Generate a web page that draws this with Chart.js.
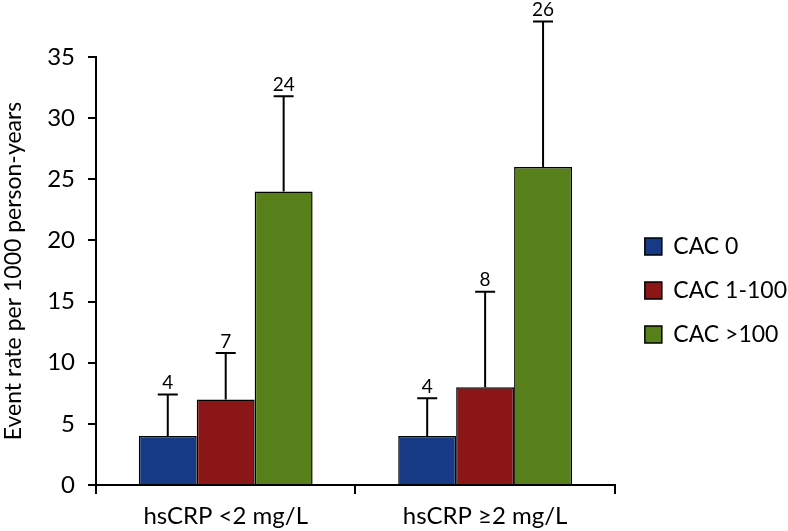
<!DOCTYPE html>
<html>
<head>
<meta charset="utf-8">
<script src="https://cdn.jsdelivr.net/npm/chart.js@4"></script>
<style>
  html, body { margin: 0; padding: 0; background: #fff; }
  #wrap { width: 788px; height: 531px; }
</style>
</head>
<body>
<div id="wrap"><canvas id="chart"></canvas></div>
<script>
const categories = ['hsCRP <2 mg/L', 'hsCRP \u22652 mg/L'];
const seriesNames = ['CAC 0', 'CAC 1-100', 'CAC >100'];
const cac0 = [4, 4];
const cac1to100 = [7, 8];
const cacOver100 = [24, 26];
// upper end of the error bars
const cac0Upper = [7.4, 7.1];
const cac1to100Upper = [10.8, 15.8];
const cacOver100Upper = [31.8, 37.9];
const yTicks = [0, 5, 10, 15, 20, 25, 30, 35];

const fontFamily = 'Lato, "Open Sans", sans-serif';
const colors = ['#173A86', '#8A1617', '#57801A'];
const uppers = [cac0Upper, cac1to100Upper, cacOver100Upper];

const errorBars = {
    id: 'errorBars',
    afterDatasetsDraw(chart) {
        const ctx = chart.ctx;
        const y = chart.scales.y;
        ctx.save();
        ctx.strokeStyle = '#000';
        ctx.lineWidth = 2;
        ctx.fillStyle = '#000';
        ctx.font = '19px ' + fontFamily;
        ctx.textAlign = 'center';
        ctx.textBaseline = 'bottom';
        chart.data.datasets.forEach(function(ds, i) {
            chart.getDatasetMeta(i).data.forEach(function(bar, j) {
                const top = y.getPixelForValue(uppers[i][j]);
                const base = y.getPixelForValue(ds.data[j]);
                ctx.beginPath();
                ctx.moveTo(bar.x, base);
                ctx.lineTo(bar.x, top);
                ctx.moveTo(bar.x - 10, top);
                ctx.lineTo(bar.x + 10, top);
                ctx.stroke();
                ctx.fillText(String(ds.data[j]), bar.x, top - 2);
            });
        });
        ctx.restore();
    }
};

// nudge the legend block next to the plot, like the original figure
const legendPlace = {
    id: 'legendPlace',
    afterLayout(chart) {
        const lg = chart.legend;
        lg.left = chart.chartArea.right + 9;
        lg.top = 214;
    }
};

new Chart(document.getElementById('chart').getContext('2d'), {
    type: 'bar',
    data: {
        labels: categories,
        datasets: [
            { label: seriesNames[0], data: cac0 },
            { label: seriesNames[1], data: cac1to100 },
            { label: seriesNames[2], data: cacOver100 }
        ].map(function(d, i) {
            d.backgroundColor = colors[i];
            d.borderColor = '#000';
            d.borderWidth = 1.5;
            d.barPercentage = 1;
            d.categoryPercentage = 0.67;
            return d;
        })
    },
    options: {
        responsive: true,
        maintainAspectRatio: false,
        animation: false,
        layout: { padding: { top: 57, right: 0, bottom: 0, left: 0 } },
        plugins: {
            tooltip: { enabled: false },
            legend: {
                position: 'right',
                align: 'start',
                maxWidth: 175,
                labels: {
                    color: '#000',
                    font: { family: fontFamily, size: 23 },
                    boxWidth: 17,
                    boxHeight: 17,
                    padding: 21
                }
            }
        },
        scales: {
            x: {
                afterFit: function(scale) { scale.height = 46; },
                grid: { drawOnChartArea: false, drawTicks: true, tickLength: 9, color: '#000', lineWidth: 2 },
                border: { color: '#000', width: 2 },
                ticks: { color: '#000', font: { family: fontFamily, size: 24 }, padding: 8 }
            },
            y: {
                min: 0,
                max: 35,
                afterBuildTicks: function(scale) { scale.ticks = yTicks.map(function(v) { return { value: v }; }); },
                afterFit: function(scale) { scale.width = 96; },
                grid: { drawOnChartArea: false, drawTicks: true, tickLength: 8, color: '#000', lineWidth: 2 },
                border: { color: '#000', width: 2 },
                ticks: { color: '#000', font: { family: fontFamily, size: 24 }, padding: 13 },
                title: {
                    display: true,
                    text: 'Event rate per 1000 person-years',
                    color: '#000',
                    font: { family: fontFamily, size: 23 },
                    padding: { top: 0, bottom: 4 }
                }
            }
        }
    },
    plugins: [errorBars, legendPlace]
});
</script>
</body>
</html>
